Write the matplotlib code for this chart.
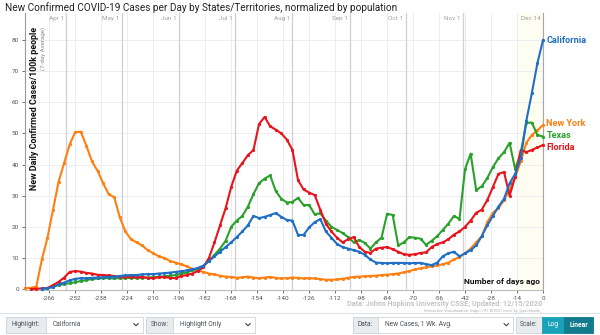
import numpy as np
import matplotlib
matplotlib.use("Agg")
import matplotlib.pyplot as plt
from matplotlib.patches import Rectangle
from matplotlib.lines import Line2D

nan = np.nan

# days ago, sampled every 3 days
days = list(range(-279, 1, 3))

new_york = [0.3, 0.4, 0.8, 9.5, 16.5, 25.5, 34.5, 40.5, 46.5, 50.5,
            50.5, 46.0, 41.0, 38.0, 34.0, 30.5, 29.5, 23.0, 18.5, 16.0,
            15.0, 14.0, 12.5, 11.5, 10.5, 10.0, 9.0, 8.5, 8.0, 7.3,
            6.5, 6.0, 5.5, 5.0, 4.7, 4.3, 4.0, 3.9, 3.6, 3.8,
            4.0, 3.7, 3.5, 3.7, 3.9, 3.6, 3.4, 3.5, 3.7, 3.6,
            3.4, 3.5, 3.4, 3.2, 3.0, 3.0, 3.1, 3.3, 3.6, 3.9,
            4.0, 4.1, 4.2, 4.3, 4.5, 4.6, 4.8, 5.0, 5.4, 5.8,
            6.3, 6.7, 7.0, 7.3, 7.6, 8.0, 8.5, 9.5, 10.3, 11.5,
            13.0, 15.0, 17.0, 21.5, 24.5, 26.0, 28.5, 32.0, 36.0, 41.0,
            47.0, 49.5, 51.0, 52.7]

texas = [nan, nan, nan, 0.1, 0.3, 0.8, 1.3, 1.6, 1.9, 2.2,
         2.6, 2.9, 3.2, 3.4, 3.5, 3.5, 3.4, 3.5, 3.5, 3.6,
         3.5, 3.6, 3.7, 3.8, 3.9, 4.1, 4.3, 4.5, 5.0, 5.3,
         6.0, 6.5, 7.5, 9.0, 11.0, 13.0, 15.5, 20.0, 22.0, 23.5,
         26.5, 30.5, 34.0, 35.5, 36.5, 31.5, 29.0, 27.8, 28.0, 29.3,
         27.0, 27.0, 24.0, 24.4, 22.0, 20.0, 19.0, 18.0, 16.7, 15.0,
         15.8, 14.8, 13.0, 15.0, 16.5, 24.2, 23.8, 14.0, 15.0, 16.7,
         16.5, 16.2, 14.2, 15.5, 17.0, 19.0, 21.0, 23.5, 22.5, 38.5,
         43.5, 31.8, 33.0, 35.7, 39.2, 42.0, 44.0, 47.0, 38.5, 43.7,
         53.4, 53.5, 49.5, 49.0]

florida = [nan, 0.0, 0.1, 0.2, 0.3, 1.3, 2.3, 3.7, 5.5, 5.8,
           5.6, 5.2, 5.0, 4.6, 4.5, 4.4, 4.2, 3.9, 4.0, 3.9,
           3.8, 3.9, 3.6, 3.5, 3.8, 3.9, 3.6, 3.5, 4.2, 4.5,
           5.0, 5.8, 7.0, 10.0, 15.0, 20.5, 26.0, 32.8, 38.0, 40.5,
           43.0, 44.7, 53.0, 55.3, 52.3, 51.2, 50.0, 48.0, 44.7, 35.0,
           32.0, 31.0, 30.2, 25.5, 21.0, 18.5, 16.5, 15.0, 16.0, 16.7,
           13.5, 12.0, 11.6, 13.0, 13.3, 13.5, 12.8, 12.0, 11.2, 11.0,
           11.2, 11.6, 11.8, 13.5, 14.5, 15.0, 16.0, 17.5, 18.5, 20.0,
           22.0, 24.5, 25.5, 28.6, 32.8, 37.0, 37.6, 30.0, 36.0, 44.7,
           44.0, 44.7, 45.5, 46.3]

california = [nan, nan, nan, 0.1, 0.3, 0.6, 1.5, 2.1, 2.8, 3.3,
              3.5, 3.5, 3.6, 3.7, 3.8, 3.9, 4.0, 4.2, 4.4, 4.5,
              4.5, 4.7, 4.8, 4.8, 5.0, 5.1, 5.3, 5.5, 5.7, 6.0,
              6.3, 6.8, 7.5, 9.0, 10.5, 12.0, 13.5, 15.0, 16.7, 18.5,
              20.5, 23.5, 22.8, 23.2, 23.8, 24.4, 23.2, 22.2, 22.0, 17.4,
              17.4, 19.8, 21.5, 22.5, 18.5, 16.5, 14.5, 13.5, 13.0, 12.5,
              12.0, 11.0, 9.5, 8.5, 8.4, 8.3, 8.4, 8.4, 8.4, 8.3,
              8.4, 8.4, 8.0, 7.7, 8.5, 10.5, 11.5, 12.0, 10.5, 11.5,
              12.5, 14.0, 17.0, 20.5, 23.5, 26.5, 29.0, 34.0, 37.0, 42.0,
              54.0, 63.0, 72.6, 80.0]

series_names = ["New York", "Texas", "Florida", "California"]
series_colors = ["#ff7f11", "#2aa12a", "#e8141b", "#1f6fc6"]
# small vertical nudges (points) so the end labels do not collide
label_nudge = [0.9, 0.6, -1.5, 0.0]

bottom_ticks = list(range(-266, 1, 14))
month_days = [-257, -227, -196, -166, -135, -104, -74, -43, 0]
month_labels = ["Apr 1", "May 1", "Jun 1", "Jul 1", "Aug 1", "Sep 1", "Oct 1", "Nov 1", "Dec 14"]
y_ticks = list(range(0, 81, 10))

plt.rcParams["font.family"] = ["Roboto", "DejaVu Sans"]

W, H = 600, 335
fig = plt.figure(figsize=(W / 100, H / 100), dpi=100)


def fx(x):
    return x / W


def fy(y):
    return 1 - y / H


ax = fig.add_axes([fx(25), fy(290), (543 - 25) / W, (290 - 13) / H])
ax.set_xlim(-279.1, 0)
ax.set_ylim(-0.3, 88.7)

# background: last two weeks shaded, grid lines
ax.axvspan(-14, 0, color="#fdfdf1", zorder=0)
for t in bottom_ticks:
    ax.axvline(t, color="#ececf2", lw=0.7, zorder=1)
for v in y_ticks[1:]:
    ax.axhline(v, color="#ececf2", lw=0.7, zorder=1)
for d, lab in zip(month_days, month_labels):
    ax.axvline(d, color="#cfcfd4", lw=0.9, zorder=1)
    ax.text(d - 1.2, 87.0, lab, ha="right", va="center", fontsize=4.6, color="#a0a0a0")

data = [new_york, texas, florida, california]
for name, vals, col, nud in zip(series_names, data, series_colors, label_nudge):
    ax.plot(days, vals, color=col, lw=1.5, marker="o", ms=2.3, mew=0, zorder=3, clip_on=False)
    ax.annotate(name, (days[-1], vals[-1]), xytext=(2.5, nud), textcoords="offset points",
                ha="left", va="center", fontsize=6.6, fontweight="bold", color=col,
                annotation_clip=False)

ax.set_xticks(bottom_ticks)
ax.set_xticklabels([str(t) for t in bottom_ticks])
ax.set_yticks(y_ticks)
ax.set_yticklabels([str(v) for v in y_ticks])
ax.tick_params(axis="both", labelsize=4.6, colors="#555555", length=2.5, width=0.6, pad=2)
ax.spines["top"].set_visible(False)
ax.spines["left"].set_color("#9a9a9a")
ax.spines["bottom"].set_color("#bbbbbb")
ax.spines["right"].set_color("#a8a8a8")
for s in ["left", "bottom", "right"]:
    ax.spines[s].set_linewidth(0.8)

ax.text(-274.2, 84.3, "New Daily Confirmed Cases/100k people", rotation=90, ha="center", va="top",
        fontsize=6.4, fontweight="bold", color="#111111")
ax.text(-269.6, 84.3, "(7-day Average)", rotation=90, ha="center", va="top",
        fontsize=4.4, color="#8a8a8a")
ax.text(-1.5, 2.3, "Number of days ago", ha="right", va="center", fontsize=6.0,
        fontweight="bold", color="#111111")

fig.text(fx(5), fy(8), "New Confirmed COVID-19 Cases per Day by States/Territories, normalized by population",
         ha="left", va="center", fontsize=7.2, color="#222222")
fig.text(fx(542), fy(304), "Data: Johns Hopkins University CSSE; Updated: 12/15/2020",
         ha="right", va="center", fontsize=5.2, fontweight="bold", color="#c4c4c4")
fig.text(fx(542), fy(311), "Interactive Visualization: https://91-DIVOC.com/ by @profwade_",
         ha="right", va="center", fontsize=3.0, color="#b0b0b0")

# control bar under the chart
fig.add_artist(Line2D([0, 1], [fy(313), fy(313)], transform=fig.transFigure, color="#dee2e6", lw=0.8))


def box(x0, x1, y0, y1, face, edge):
    fig.add_artist(Rectangle((fx(x0), fy(y1)), (x1 - x0) / W, (y1 - y0) / H,
                             transform=fig.transFigure, facecolor=face, edgecolor=edge, lw=0.6))


def chevron(x, y):
    fig.add_artist(Line2D([fx(x - 2.2), fx(x), fx(x + 2.2)], [fy(y - 1.1), fy(y + 1.1), fy(y - 1.1)],
                          transform=fig.transFigure, color="#444444", lw=0.8))


controls = [
    (6, 45.7, 143, "Highlight:", "California"),
    (145.7, 173.3, 255, "Show:", "Highlight Only"),
    (352.7, 378.3, 513.3, "Data:", "New Cases, 1 Wk. Avg."),
]
cy0, cy1 = 316.7, 332.7
cyc = (cy0 + cy1) / 2
for x0, xm, x1, lab, val in controls:
    box(x0, x1, cy0, cy1, "white", "#ced4da")
    box(x0, xm, cy0, cy1, "#e9ecef", "#ced4da")
    fig.text(fx((x0 + xm) / 2), fy(cyc), lab, ha="center", va="center", fontsize=4.8, color="#495057")
    fig.text(fx(xm + 7), fy(cyc), val, ha="left", va="center", fontsize=4.8, color="#495057")
    chevron(x1 - 7, cyc)

box(515.7, 542.3, cy0, cy1, "#e9ecef", "#ced4da")
fig.text(fx((515.7 + 542.3) / 2), fy(cyc), "Scale:", ha="center", va="center", fontsize=4.8, color="#495057")
box(542.3, 564, cy0, cy1, "#17a2b8", "#17a2b8")
fig.text(fx(553.2), fy(cyc), "Log", ha="center", va="center", fontsize=4.8, color="white")
box(564, 593.3, cy0, cy1, "#117a8b", "#117a8b")
fig.text(fx(578.7), fy(cyc), "Linear", ha="center", va="center", fontsize=4.8, color="white", fontweight="bold")

fig.savefig("out.png", dpi=100)
